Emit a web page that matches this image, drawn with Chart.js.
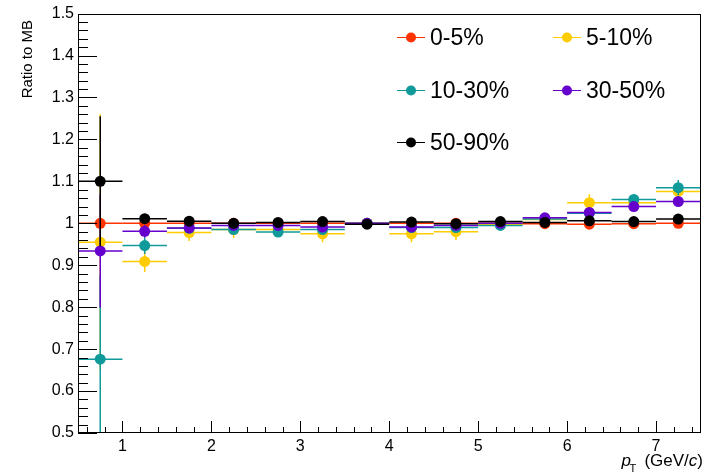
<!DOCTYPE html>
<html>
<head>
<meta charset="utf-8">
<script src="https://cdn.jsdelivr.net/npm/chart.js@4/dist/chart.umd.min.js"></script>
<style>
  html, body { margin: 0; padding: 0; background: #fff; }
  canvas { display: block; }
</style>
</head>
<body>
<canvas id="ratioChart" width="706" height="476"></canvas>
<script>
// bin centres and half widths (pT, GeV/c)
const ptCenters = [0.75, 1.25, 1.75, 2.25, 2.75, 3.25, 3.75, 4.25, 4.75, 5.25, 5.75, 6.25, 6.75, 7.25];
const ptHalfWidth = [0.25, 0.25, 0.25, 0.25, 0.25, 0.25, 0.25, 0.25, 0.25, 0.25, 0.25, 0.25, 0.25, 0.25];

const seriesLabels = ['0-5%', '5-10%', '10-30%', '30-50%', '50-90%'];
const seriesColors = ['#ff3300', '#ffcc00', '#109a9a', '#6600cc', '#000000'];

const ratio0to5 = [1.0, 1.0, 1.0, 1.0, 1.0, 1.0, 1.0, 1.0, 1.0, 1.0, 0.999, 0.998, 0.999, 1.0];
const err0to5 = [0.003, 0.003, 0.002, 0.002, 0.002, 0.002, 0.002, 0.002, 0.002, 0.002, 0.002, 0.002, 0.002, 0.002];

const ratio5to10 = [0.955, 0.909, 0.978, 0.985, 0.985, 0.975, 1.0, 0.975, 0.98, 0.998, 1.009, 1.049, 1.049, 1.076];
const err5to10 = [0.305, 0.025, 0.02, 0.02, 0.015, 0.02, 0.01, 0.02, 0.02, 0.01, 0.01, 0.02, 0.015, 0.015];

const ratio10to30 = [0.676, 0.947, 0.988, 0.985, 0.979, 0.985, 1.0, 0.99, 0.99, 0.995, 1.01, 1.024, 1.057, 1.085];
const err10to30 = [0.2, 0.02, 0.01, 0.01, 0.01, 0.01, 0.01, 0.01, 0.01, 0.01, 0.01, 0.01, 0.012, 0.018];

const ratio30to50 = [0.934, 0.981, 0.989, 0.995, 0.995, 0.991, 1.0, 0.991, 0.995, 1.0, 1.013, 1.026, 1.04, 1.052];
const err30to50 = [0.135, 0.015, 0.01, 0.005, 0.005, 0.005, 0.005, 0.005, 0.005, 0.005, 0.008, 0.01, 0.01, 0.01];

const ratio50to90 = [1.10, 1.011, 1.005, 1.0, 1.002, 1.004, 0.998, 1.003, 0.999, 1.004, 1.002, 1.006, 1.004, 1.01];
const err50to90 = [0.155, 0.008, 0.005, 0.005, 0.005, 0.005, 0.01, 0.005, 0.005, 0.005, 0.005, 0.005, 0.005, 0.005];

const xTickValues = [1, 2, 3, 4, 5, 6, 7];
const yTickValues = [0.5, 0.6, 0.7, 0.8, 0.9, 1.0, 1.1, 1.2, 1.3, 1.4, 1.5];
const yTickLabels = ['0.5', '0.6', '0.7', '0.8', '0.9', '1', '1.1', '1.2', '1.3', '1.4', '1.5'];

const allRatios = [ratio0to5, ratio5to10, ratio10to30, ratio30to50, ratio50to90];
const allErrors = [err0to5, err5to10, err10to30, err30to50, err50to90];

const FONT = "'Liberation Sans', Arial, Helvetica, sans-serif";

// ROOT-like drawing: error bars per dataset, frame, inward ticks, titles, legend
const rootStyle = {
    id: 'rootStyle',
    beforeDatasetDraw(chart, args) {
        const i = args.index;
        const ctx = chart.ctx;
        const xs = chart.scales.x, ys = chart.scales.y;
        const area = chart.chartArea;
        ctx.save();
        ctx.beginPath();
        ctx.rect(area.left, area.top, area.right - area.left, area.bottom - area.top);
        ctx.clip();
        ctx.strokeStyle = seriesColors[i];
        ctx.lineWidth = 1.5;
        allRatios[i].forEach((v, k) => {
            const px = xs.getPixelForValue(ptCenters[k]);
            const py = ys.getPixelForValue(v);
            const x0 = xs.getPixelForValue(ptCenters[k] - ptHalfWidth[k]);
            const x1 = xs.getPixelForValue(ptCenters[k] + ptHalfWidth[k]);
            const y0 = ys.getPixelForValue(v - allErrors[i][k]);
            const y1 = ys.getPixelForValue(v + allErrors[i][k]);
            ctx.beginPath();
            ctx.moveTo(x0, py); ctx.lineTo(x1, py);
            ctx.moveTo(px, y0); ctx.lineTo(px, y1);
            ctx.stroke();
        });
        ctx.restore();
    },
    afterDraw(chart) {
        const ctx = chart.ctx;
        const xs = chart.scales.x, ys = chart.scales.y;
        const a = chart.chartArea;
        ctx.save();
        ctx.strokeStyle = '#000';
        ctx.lineWidth = 1;

        // frame
        ctx.strokeRect(Math.round(a.left) + 0.5, Math.round(a.top) + 0.5,
            Math.round(a.right - a.left) - 1, Math.round(a.bottom - a.top) - 1);

        // y ticks (major 0.1, minor 0.02)
        ctx.beginPath();
        for (let t = 0; t <= 50; t++) {
            const v = 0.5 + t * 0.02;
            const py = Math.round(ys.getPixelForValue(v)) + 0.5;
            const len = (t % 5 === 0) ? 19 : 10;
            ctx.moveTo(a.left, py); ctx.lineTo(a.left + len, py);
        }
        // x ticks (major 1, minor 0.2)
        for (let t = 3; t <= 37; t++) {
            const v = t * 0.2;
            const px = Math.round(xs.getPixelForValue(v)) + 0.5;
            const len = (t % 5 === 0) ? 12 : 6;
            ctx.moveTo(px, a.bottom); ctx.lineTo(px, a.bottom - len);
        }
        ctx.stroke();

        // y title
        ctx.fillStyle = '#000';
        ctx.save();
        ctx.translate(28, 20);
        ctx.rotate(-Math.PI / 2);
        ctx.font = '15px ' + FONT;
        ctx.textAlign = 'right';
        ctx.textBaseline = 'middle';
        ctx.fillText('Ratio to MB', 0, 0);
        ctx.restore();

        // x title: p_T (GeV/c)
        ctx.textBaseline = 'alphabetic';
        ctx.textAlign = 'left';
        const base = 466;
        let x = 703;
        const parts = [[')', 'normal'], ['c', 'italic'], ['(GeV/', 'normal']];
        parts.forEach(([s, st]) => {
            ctx.font = st + ' 17px ' + FONT;
            x -= ctx.measureText(s).width;
            ctx.fillText(s, x, base);
        });
        ctx.font = '11px ' + FONT;
        ctx.fillText('T', x - 15, base + 6);
        ctx.font = 'italic 17px ' + FONT;
        ctx.fillText('p', x - 23, base);

        // legend
        const cols = [397, 553];
        const rows = [37, 90, 142];
        seriesLabels.forEach((lab, i) => {
            const lx = cols[i % 2];
            const ly = rows[Math.floor(i / 2)] + 0.5;
            ctx.strokeStyle = seriesColors[i];
            ctx.beginPath();
            ctx.moveTo(lx, ly); ctx.lineTo(lx + 28, ly);
            ctx.stroke();
            ctx.fillStyle = seriesColors[i];
            ctx.beginPath();
            ctx.arc(lx + 14, ly, 5, 0, Math.PI * 2);
            ctx.fill();
            ctx.fillStyle = '#000';
            ctx.font = '23px ' + FONT;
            ctx.textBaseline = 'middle';
            ctx.fillText(lab, lx + 33, ly + 1);
        });
        ctx.restore();
    }
};

const datasets = seriesLabels.map((label, i) => ({
    label: label,
    data: ptCenters.map((x, k) => ({ x: x, y: allRatios[i][k] })),
    backgroundColor: seriesColors[i],
    borderColor: seriesColors[i],
    pointRadius: 5.5,
    pointBorderWidth: 0,
    showLine: false,
    order: seriesLabels.length - 1 - i
}));

new Chart(document.getElementById('ratioChart'), {
    type: 'scatter',
    data: { datasets: datasets },
    options: {
        responsive: false,
        animation: false,
        devicePixelRatio: 1,
        layout: { padding: { top: 8, right: 3, left: 0, bottom: 0 } },
        plugins: {
            legend: { display: false },
            tooltip: { enabled: false }
        },
        scales: {
            x: {
                type: 'linear',
                min: 0.5,
                max: 7.5,
                afterBuildTicks: s => { s.ticks = xTickValues.map(v => ({ value: v })); },
                afterFit: s => { s.height = 43; },
                grid: { display: false, drawTicks: false },
                border: { display: false },
                ticks: {
                    color: '#000',
                    padding: 4,
                    maxRotation: 0,
                    font: { size: 16, family: FONT },
                    callback: v => String(v)
                }
            },
            y: {
                type: 'linear',
                min: 0.5,
                max: 1.5,
                afterBuildTicks: s => { s.ticks = yTickValues.map(v => ({ value: v })); },
                afterFit: s => { s.width = 78; },
                grid: { display: false, drawTicks: false },
                border: { display: false },
                ticks: {
                    color: '#000',
                    padding: 4,
                    font: { size: 16, family: FONT },
                    callback: (v, idx) => yTickLabels[idx]
                }
            }
        }
    },
    plugins: [rootStyle]
});
</script>
</body>
</html>
